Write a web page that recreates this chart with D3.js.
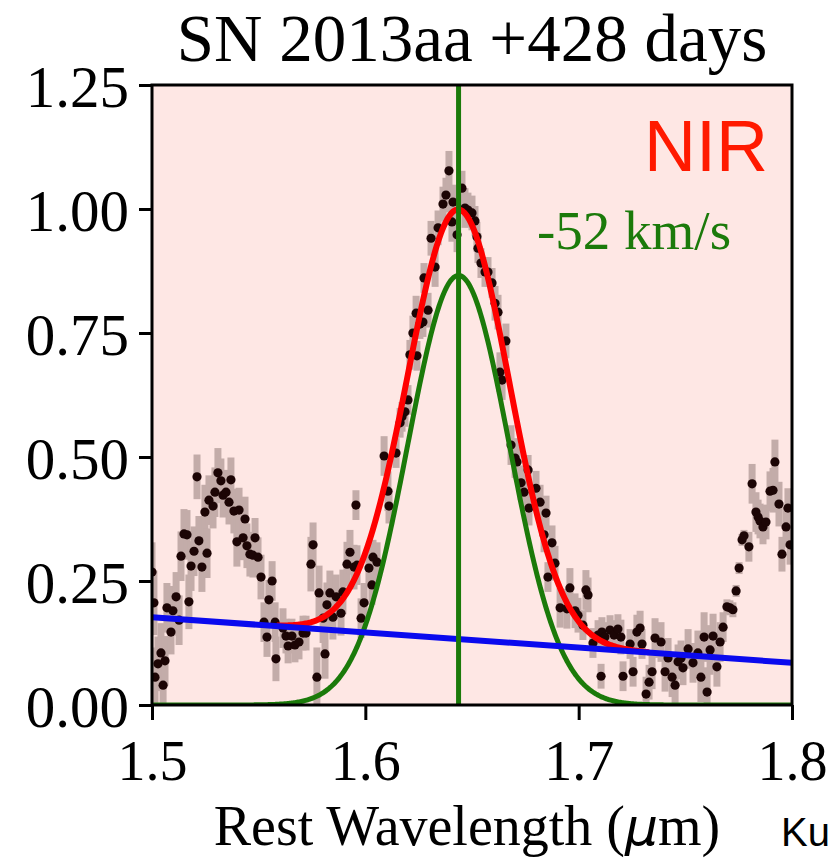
<!DOCTYPE html>
<html>
<meta charset="utf-8">
<style>
  body { margin: 0; background: #fff; }
  .tick text { font-family: "Liberation Serif", "Times New Roman", serif; }
</style>
<script src="https://d3js.org/d3.v7.min.js"></script>
<body>
<script>
// spectrum
var wavelength = [
  1.5000,1.5009,1.5014,1.5028,1.5042,1.5052,1.5061,1.5070,1.5089,1.5098,
  1.5113,1.5127,1.5136,1.5150,1.5164,1.5173,1.5183,1.5197,1.5211,1.5220,
  1.5234,1.5248,1.5258,1.5267,1.5286,1.5295,1.5309,1.5323,1.5333,1.5347,
  1.5361,1.5370,1.5384,1.5398,1.5408,1.5427,1.5436,1.5445,1.5459,1.5473,
  1.5483,1.5497,1.5511,1.5525,1.5539,1.5548,1.5563,1.5577,1.5581,1.5614,
  1.5628,1.5638,1.5656,1.5670,1.5689,1.5708,1.5722,1.5745,1.5755,1.5773,
  1.5783,1.5802,1.5811,1.5820,1.5834,1.5848,1.5863,1.5886,1.5895,1.5914,
  1.5928,1.5947,1.5956,1.5961,1.5980,1.5994,1.6017,1.6036,1.6031,1.6055,
  1.6088,1.6106,1.6111,1.6144,1.6163,1.6172,1.6186,1.6200,1.6209,1.6223,
  1.6242,1.6238,1.6256,1.6270,1.6275,1.6294,1.6308,1.6327,1.6341,1.6364,
  1.6378,1.6392,1.6406,1.6411,1.6430,1.6453,1.6467,1.6481,1.6500,1.6514,
  1.6523,1.6528,1.6542,1.6561,1.6575,1.6594,1.6608,1.6622,1.6631,1.6641,
  1.6659,1.6683,1.6702,1.6711,1.6730,1.6744,1.6763,1.6767,1.6800,1.6819,
  1.6838,1.6847,1.6856,1.6875,1.6889,1.6913,1.6945,1.6959,1.6983,1.6997,
  1.7020,1.7034,1.7044,1.7067,1.7091,1.7109,1.7105,1.7123,1.7147,1.7166,
  1.7184,1.7198,1.7208,1.7241,1.7255,1.7273,1.7288,1.7297,1.7316,1.7330,
  1.7344,1.7358,1.7386,1.7405,1.7419,1.7438,1.7452,1.7466,1.7480,1.7489,
  1.7513,1.7536,1.7559,1.7573,1.7588,1.7602,1.7616,1.7630,1.7648,1.7663,
  1.7677,1.7695,1.7709,1.7723,1.7738,1.7752,1.7766,1.7775,1.7798,1.7813,
  1.7831,1.7841,1.7850,1.7864,1.7878,1.7897,1.7911,1.7920,1.7939,1.7953,
  1.7972,1.7981,1.7991
];
var flux = [
  0.268,0.206,0.056,0.083,0.105,0.040,0.089,0.196,0.147,0.190,
  0.218,0.171,0.300,0.345,0.343,0.208,0.280,0.310,0.460,0.331,
  0.278,0.389,0.306,0.413,0.401,0.429,0.468,0.452,0.423,0.429,
  0.409,0.454,0.391,0.329,0.393,0.337,0.375,0.321,0.304,0.302,
  0.337,0.298,0.258,0.167,0.137,0.212,0.250,0.167,0.093,0.155,
  0.139,0.119,0.139,0.121,0.127,0.145,0.145,0.284,0.323,0.056,
  0.226,0.175,0.103,0.202,0.226,0.177,0.218,0.185,0.228,0.284,
  0.308,0.278,0.403,0.282,0.175,0.206,0.276,0.298,0.242,0.288,
  0.502,0.431,0.401,0.508,0.569,0.581,0.591,0.615,0.706,0.750,
  0.704,0.790,0.768,0.772,0.861,0.796,0.941,0.883,0.962,1.010,
  1.028,1.077,0.974,1.014,0.948,1.042,1.002,0.998,0.992,0.976,
  0.944,0.921,0.891,0.873,0.873,0.851,0.810,0.792,0.671,0.655,
  0.734,0.524,0.498,0.490,0.448,0.429,0.474,0.397,0.437,0.409,
  0.343,0.387,0.258,0.327,0.286,0.196,0.194,0.236,0.190,0.181,
  0.161,0.232,0.222,0.125,0.141,0.147,0.058,0.137,0.151,0.141,
  0.153,0.137,0.058,0.123,0.067,0.147,0.155,0.123,0.022,0.046,
  0.067,0.135,0.127,0.067,0.095,0.056,0.040,0.087,0.095,0.075,
  0.113,0.085,0.105,0.056,0.137,0.026,0.111,0.139,0.077,0.127,
  0.157,0.198,0.196,0.192,0.230,0.276,0.333,0.341,0.319,0.446,
  0.389,0.379,0.371,0.359,0.369,0.431,0.433,0.490,0.405,0.304,
  0.359,0.397,0.323
];
var fluxErr = [
  0.060,0.065,0.060,0.055,0.060,0.055,0.050,0.050,0.045,0.050,
  0.050,0.050,0.050,0.050,0.050,0.055,0.050,0.050,0.045,0.050,
  0.050,0.055,0.050,0.050,0.045,0.050,0.050,0.045,0.045,0.045,
  0.045,0.045,0.045,0.050,0.045,0.045,0.045,0.045,0.045,0.045,
  0.040,0.040,0.045,0.040,0.040,0.040,0.040,0.040,0.045,0.040,
  0.035,0.035,0.035,0.035,0.035,0.035,0.035,0.055,0.045,0.060,
  0.055,0.050,0.050,0.045,0.045,0.045,0.045,0.045,0.045,0.045,
  0.045,0.045,0.030,0.040,0.040,0.040,0.040,0.035,0.040,0.040,
  0.040,0.040,0.035,0.030,0.030,0.030,0.030,0.030,0.030,0.035,
  0.030,0.035,0.030,0.030,0.030,0.035,0.035,0.040,0.035,0.035,
  0.035,0.040,0.040,0.035,0.035,0.035,0.040,0.035,0.035,0.030,
  0.030,0.030,0.030,0.030,0.030,0.030,0.035,0.035,0.040,0.040,
  0.035,0.040,0.040,0.035,0.035,0.035,0.030,0.035,0.035,0.035,
  0.035,0.035,0.030,0.035,0.035,0.040,0.040,0.040,0.035,0.035,
  0.030,0.040,0.035,0.030,0.030,0.030,0.025,0.030,0.030,0.030,
  0.030,0.035,0.030,0.030,0.030,0.035,0.035,0.030,0.035,0.035,
  0.035,0.040,0.040,0.040,0.040,0.040,0.040,0.035,0.035,0.035,
  0.040,0.040,0.045,0.050,0.050,0.050,0.050,0.045,0.040,0.040,
  0.030,0.015,0.015,0.015,0.012,0.012,0.012,0.012,0.030,0.040,
  0.040,0.035,0.035,0.035,0.035,0.040,0.045,0.045,0.045,0.035,
  0.040,0.040,0.040
];

// fit: linear continuum + one gaussian
var contStart = [1.5, 0.177], contEnd = [1.8, 0.085];
var lineCenter = 1.6437, lineAmp = 0.866, lineSigma = 0.0238;
var fitRange = [1.5585, 1.733];

var xTicks = [1.5, 1.6, 1.7, 1.8];
var yTicks = [0, 0.25, 0.5, 0.75, 1.0, 1.25];

var W = 832, H = 859;
var margin = {left: 152, top: 85, right: 40, bottom: 154};
var w = W - margin.left - margin.right, h = H - margin.top - margin.bottom;

var svg = d3.select("body").append("svg").attr("width", W).attr("height", H);

var x = d3.scaleLinear().domain([1.5, 1.8]).range([0, w]);
var y = d3.scaleLinear().domain([0, 1.25]).range([h, 0]);

var g = svg.append("g").attr("transform", "translate(" + margin.left + "," + margin.top + ")");

g.append("rect").attr("width", w).attr("height", h).attr("fill", "#fee7e4");

svg.append("clipPath").attr("id", "clip")
  .append("rect").attr("width", w).attr("height", h);

var plot = g.append("g").attr("clip-path", "url(#clip)");

function cont(l) {
  return contStart[1] + (contEnd[1] - contStart[1]) * (l - contStart[0]) / (contEnd[0] - contStart[0]);
}
function gauss(l) {
  return lineAmp * Math.exp(-Math.pow(l - lineCenter, 2) / (2 * lineSigma * lineSigma));
}

var pts = wavelength.map(function(l, i) { return {l: l, f: flux[i], e: fluxErr[i]}; });

plot.selectAll(".err").data(pts).enter().append("line")
  .attr("x1", function(d) { return x(d.l); })
  .attr("x2", function(d) { return x(d.l); })
  .attr("y1", function(d) { return y(d.f - d.e); })
  .attr("y2", function(d) { return y(d.f + d.e); })
  .attr("stroke", "#c3aca9").attr("stroke-width", 7);

plot.selectAll(".pt").data(pts).enter().append("circle")
  .attr("cx", function(d) { return x(d.l); })
  .attr("cy", function(d) { return y(d.f); })
  .attr("r", 4.6).attr("fill", "#1c0505");

var grid = d3.range(1.5, 1.8001, 0.0005);
var line = d3.line().x(function(d) { return x(d[0]); }).y(function(d) { return y(d[1]); });

plot.append("path")
  .attr("d", line(grid.map(function(l) { return [l, gauss(l)]; })))
  .attr("fill", "none").attr("stroke", "#1b7a0a").attr("stroke-width", 5);

var fitGrid = grid.filter(function(l) { return l >= fitRange[0] && l <= fitRange[1]; });
plot.append("path")
  .attr("d", line(fitGrid.map(function(l) { return [l, cont(l) + gauss(l)]; })))
  .attr("fill", "none").attr("stroke", "#ff0000").attr("stroke-width", 6);

plot.append("path")
  .attr("d", line([contStart, contEnd]))
  .attr("fill", "none").attr("stroke", "#0a0aee").attr("stroke-width", 6);

plot.append("line")
  .attr("x1", x(lineCenter)).attr("x2", x(lineCenter))
  .attr("y1", 0).attr("y2", h)
  .attr("stroke", "#1b7a0a").attr("stroke-width", 5);

// axes
var xAxis = g.append("g").attr("transform", "translate(0," + h + ")")
  .call(d3.axisBottom(x).tickValues(xTicks).tickFormat(d3.format(".1f")).tickSize(15).tickPadding(20));
var yAxis = g.append("g")
  .call(d3.axisLeft(y).tickValues(yTicks).tickFormat(d3.format(".2f")).tickSize(13).tickPadding(10));

[xAxis, yAxis].forEach(function(a) {
  a.select(".domain").remove();
  a.selectAll(".tick line").attr("stroke", "#000").attr("stroke-width", 3);
  a.selectAll(".tick text").attr("fill", "#000").style("font-size", "56px");
});
yAxis.selectAll(".tick text").style("font-size", "59px").attr("dy", "0.36em");

g.append("rect").attr("width", w).attr("height", h)
  .attr("fill", "none").attr("stroke", "#000").attr("stroke-width", 3);

// texts
svg.append("text").attr("x", margin.left + w / 2).attr("y", 61)
  .attr("text-anchor", "middle")
  .style("font-family", "Liberation Serif, serif").style("font-size", "67px")
  .text("SN 2013aa +428 days");

g.append("text").attr("x", 616).attr("y", 86).attr("text-anchor", "end")
  .style("font-family", "Liberation Sans, Arial, sans-serif").style("font-size", "72px")
  .attr("fill", "#ff1a00").text("NIR");

g.append("text").attr("x", 385).attr("y", 164)
  .style("font-family", "Liberation Serif, serif").style("font-size", "55px")
  .attr("fill", "#1b7a0a").text("-52 km/s");

var xl = svg.append("text").attr("x", 467).attr("y", 845).attr("text-anchor", "middle")
  .style("font-family", "Liberation Serif, serif").style("font-size", "56px");
xl.append("tspan").text("Rest Wavelength (");
xl.append("tspan").style("font-family", "DejaVu Sans, sans-serif").style("font-style", "italic")
  .style("font-size", "52px").text("\u03bc");
xl.append("tspan").text("m)");

svg.append("text").attr("x", 781).attr("y", 846)
  .style("font-family", "Liberation Sans, Arial, sans-serif").style("font-size", "40px")
  .text("Ku");
</script>
</body>
</html>
